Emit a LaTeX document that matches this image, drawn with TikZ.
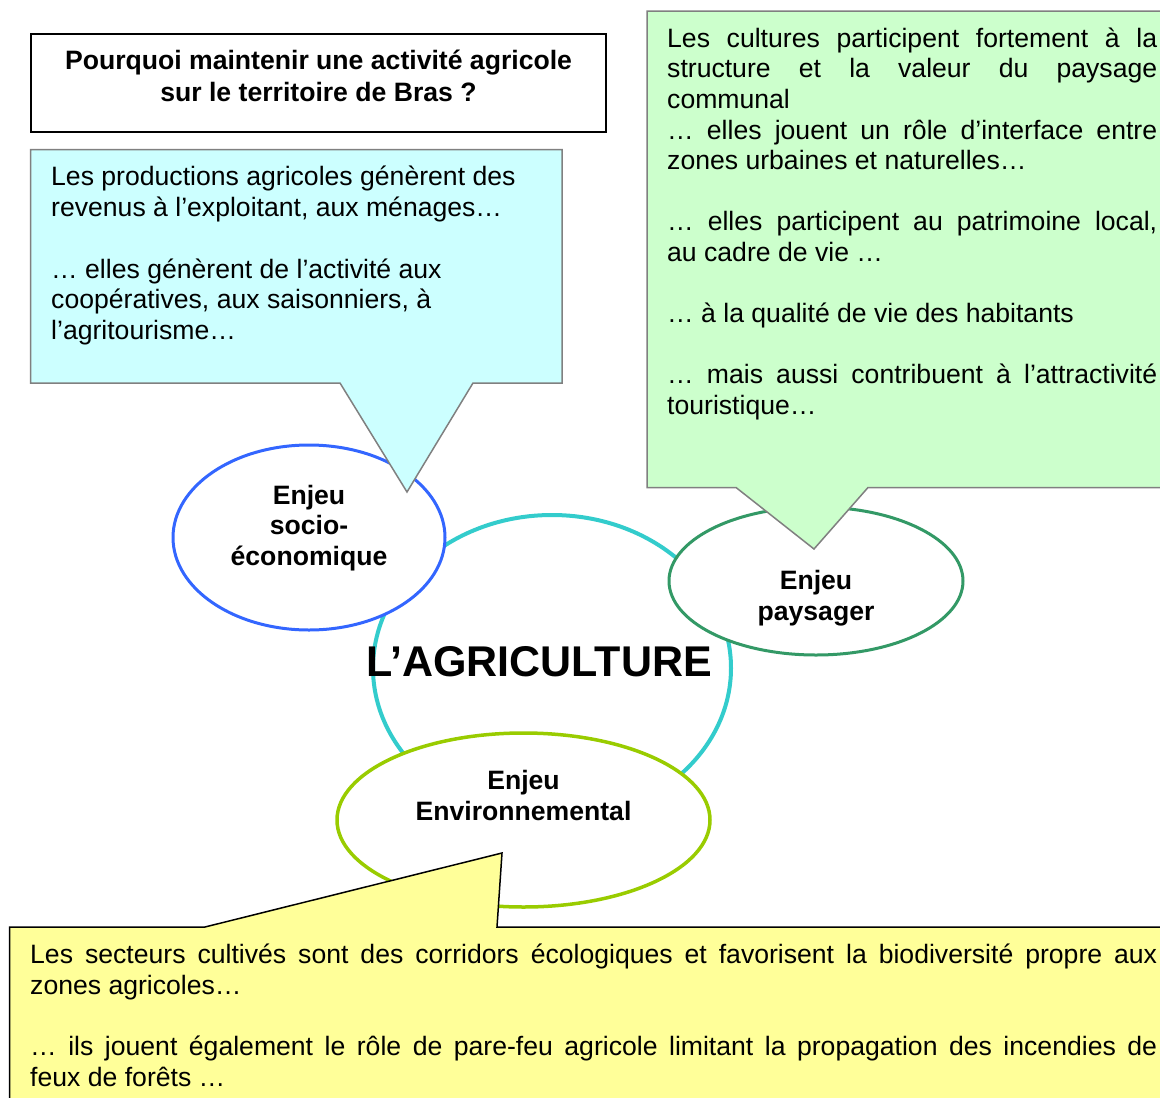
\documentclass[tikz,border=0pt]{standalone}
\usepackage{fontspec}
\setmainfont{Liberation Sans}
\usetikzlibrary{shapes.geometric}
\definecolor{cyanfill}{HTML}{CCFFFF}
\definecolor{greenfill}{HTML}{CCFFCC}
\definecolor{yellowfill}{HTML}{FFFF99}
\definecolor{calloutgray}{HTML}{808080}
\definecolor{bigring}{HTML}{33CCCC}
\definecolor{socioblue}{HTML}{3366FF}
\definecolor{paysgreen}{HTML}{339966}
\definecolor{envgreen}{HTML}{99CC00}
\newlength\gw \setlength\gw{490pt}
\newlength\yw \setlength\yw{1127pt}
\newcommand\jl[2]{\makebox[#1][s]{#2}}
\begin{document}
\begin{tikzpicture}[x=1pt,y=-1pt,
  enjeu/.style={ellipse, draw, fill=white, inner sep=0pt, line width=3pt},
  enjeutext/.style={anchor=north, inner sep=0pt, align=center, font=\fontsize{26.6}{30.7}\selectfont\bfseries},
  bodytext/.style={anchor=north west, inner sep=0pt, align=left, font=\fontsize{26.6}{30.8}\selectfont},
  callout/.style={line width=1.5pt, line join=miter}
]
\useasboundingbox (0,0) rectangle (1160,1098);
\clip (0,0) rectangle (1160,1098);

% central ring and issue ellipses
\node[enjeu, draw=bigring, line width=4pt, minimum width=358pt, minimum height=306pt] (agri) at (552,668) {};
\node[enjeu, draw=socioblue, minimum width=272pt, minimum height=185pt] (socio) at (309,537.5) {};
\node[enjeu, draw=paysgreen, minimum width=294pt, minimum height=148pt] (pays) at (816,581) {};
\node[enjeu, draw=envgreen, line width=3.5pt, minimum width=373pt, minimum height=174pt] (env) at (523.5,820) {};

\node[enjeutext] (sociotext) at (309,482.5) {\strut Enjeu\\socio-\\économique};
\node[enjeutext] (paystext) at (816,567.8) {\strut Enjeu\\paysager};
\node[enjeutext] (envtext) at (523.5,767.8) {\strut Enjeu\\Environnemental};
\node[anchor=base, inner sep=0pt, font=\fontsize{43}{48}\selectfont\bfseries] (agritext) at (539,676.5) {L’AGRICULTURE};

% cyan callout
\draw[callout, draw=calloutgray, fill=cyanfill] (30.5,149.5) -- (562,149.5) -- (562,383) -- (473,383) -- (407,492) -- (340,383) -- (30.5,383) -- cycle;
\node[bodytext] (cyantext) at (51,164) {\strut Les productions agricoles génèrent des\\
revenus à l’exploitant, aux ménages…\\
\mbox{}\\
… elles génèrent de l’activité aux\\
coopératives, aux saisonniers, à\\
l’agritourisme…};

% green callout
\draw[callout, draw=calloutgray, fill=greenfill] (647,11) -- (1170,11) -- (1170,487.5) -- (868,487.5) -- (814,549) -- (736,487.5) -- (647,487.5) -- cycle;
\node[bodytext, font=\fontsize{26.6}{30.6}\selectfont] (greentext) at (667,25.6) {\strut\jl{\gw}{Les cultures participent fortement à la}\\
\jl{\gw}{structure et la valeur du paysage}\\
communal\\
\jl{\gw}{… elles jouent un rôle d’interface entre}\\
zones urbaines et naturelles…\\
\mbox{}\\
\jl{\gw}{… elles participent au patrimoine local,}\\
au cadre de vie …\\
\mbox{}\\
… à la qualité de vie des habitants\\
\mbox{}\\
\jl{\gw}{… mais aussi contribuent à l’attractivité}\\
touristique…};

% yellow callout
\draw[callout, draw=black, fill=yellowfill] (9.5,927) -- (205,927) -- (502,853) -- (497,927) -- (1170,927) -- (1170,1110) -- (9.5,1110) -- cycle;
\node[bodytext, font=\fontsize{26.6}{30.7}\selectfont] (yellowtext) at (30,941.8) {\strut\jl{\yw}{Les secteurs cultivés sont des corridors écologiques et favorisent la biodiversité propre aux}\\
zones agricoles…\\
\mbox{}\\
\jl{\yw}{… ils jouent également le rôle de pare-feu agricole limitant la propagation des incendies de}\\
feux de forêts …};

% title
\node[draw=black, line width=1.5pt, minimum width=575pt, minimum height=98pt, inner sep=0pt] (titlebox) at (318.5,83) {};
\node[anchor=north, inner sep=0pt, align=center, font=\fontsize{26.6}{32.4}\selectfont\bfseries] (titletext) at (318.5,46.4) {\strut Pourquoi maintenir une activité agricole\\sur le territoire de Bras ?};
\end{tikzpicture}
\end{document}
